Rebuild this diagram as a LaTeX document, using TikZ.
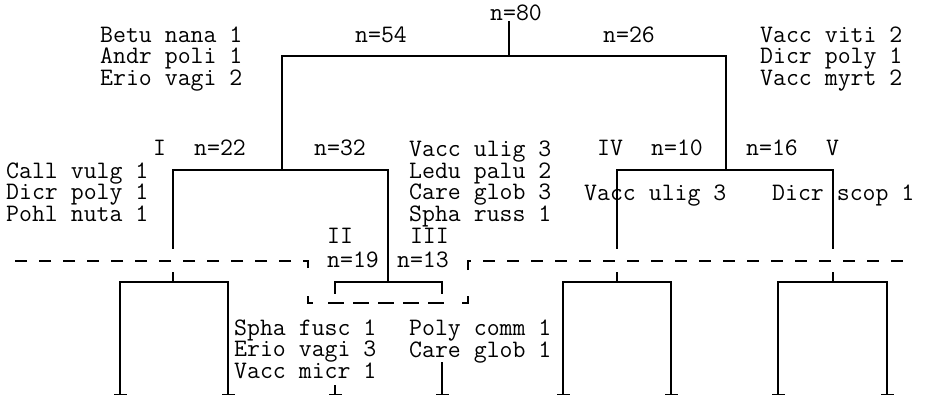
\documentclass[tikz,border=0pt]{standalone}
\usepackage{fontspec}
\usetikzlibrary{arrows.meta}

\begin{document}
\begin{tikzpicture}[
    x=1pt, y=-1pt,
    br/.style={line width=1.1pt, line cap=rect},
    leaf/.style={br, line cap=butt, -{Bar[width=13pt, line width=1.1pt]}},
    leaves/.style={br, line cap=butt,
                   {Bar[width=13pt, line width=1.1pt]}-{Bar[width=13pt, line width=1.1pt]}},
    cut/.style={line width=1.1pt, dash pattern=on 12pt off 12pt},
    lbl/.style={inner sep=0pt, anchor=base west, align=left,
                font=\fontsize{25.1}{21.5}\selectfont\ttfamily},
    lble/.style={lbl, anchor=base east, align=right},
]
\useasboundingbox (0,0) rectangle (925,400);

% tree junctions
\coordinate (top) at (509,22);
\coordinate (a)   at (282,56);
\coordinate (b)   at (726,56);
\coordinate (a1)  at (282,170);
\coordinate (b1)  at (726,170);
\coordinate (aL)  at (173,170);
\coordinate (aR)  at (388,170);
\coordinate (bL)  at (617,170);
\coordinate (bR)  at (833,170);
\coordinate (aLe) at (173,248);
\coordinate (bLe) at (617,248);
\coordinate (bRe) at (833,248);
\coordinate (aLs) at (173,273);
\coordinate (bLs) at (617,273);
\coordinate (bRs) at (833,273);
\coordinate (aLj) at (173,282);
\coordinate (aRj) at (388,282);
\coordinate (bLj) at (617,282);
\coordinate (bRj) at (833,282);

% leaves
\coordinate (l1) at (120,395);
\coordinate (l2) at (228,395);
\coordinate (l3s) at (335,293);
\coordinate (l4s) at (442,293);
\coordinate (l3b) at (335,385);
\coordinate (l3)  at (335,395);
\coordinate (l4b) at (442,362);
\coordinate (l4)  at (442,395);
\coordinate (l5) at (563,395);
\coordinate (l6) at (671,395);
\coordinate (l7) at (778,395);
\coordinate (l8) at (887,395);

% cut line
\coordinate (c0)  at (5,261);
\coordinate (c1)  at (308,261);
\coordinate (c1d) at (308,268);
\coordinate (c2u) at (308,296);
\coordinate (c2)  at (308,303);
\coordinate (c3)  at (468,303);
\coordinate (c3u) at (468,296);
\coordinate (c4d) at (468,270);
\coordinate (c4)  at (468,261);
\coordinate (c5)  at (907,261);

% labels (multi-line ones sit on their last line)
\node[lbl] (n80) at (490,20) {n=80};
\node[lbl] (n54) at (355,42) {n=54};
\node[lbl] (n26) at (603,42) {n=26};
\node[lbl] (spA) at (100,85) {Betu nana 1\\Andr poli 1\\Erio vagi 2};
\node[lbl] (spB) at (760,85) {Vacc viti 2\\Dicr poly 1\\Vacc myrt 2};

\node[lbl] (gI)  at (153,155) {I};
\node[lbl] (n22) at (194,155) {n=22};
\node[lbl] (n32) at (314,155) {n=32};
\node[lbl] (spC) at (6,221)   {Call vulg 1\\Dicr poly 1\\Pohl nuta 1};
\node[lbl] (spD) at (409,221) {Vacc ulig 3\\Ledu palu 2\\Care glob 3\\Spha russ 1};
\node[lbl]  (gII)  at (327,243) {II};
\node[lbl]  (n19)  at (327,267) {n=19};
\node[lble] (gIII) at (449,243) {III};
\node[lble] (n13)  at (449,267) {n=13};

\node[lbl] (gIV) at (597,155) {IV};
\node[lbl] (n10) at (651,155) {n=10};
\node[lbl] (n16) at (746,155) {n=16};
\node[lbl] (gV)  at (826,155) {V};
\node[lbl] (spE) at (584,200) {Vacc ulig 3};
\node[lbl] (spF) at (772,200) {Dicr scop 1};

\node[lbl] (spG) at (234,378) {Spha fusc 1\\Erio vagi 3\\Vacc micr 1};
\node[lbl] (spH) at (409,357) {Poly comm 1\\Care glob 1};

% branches
\draw[br] (top) -- (top |- a);
\draw[br] (a1) -- (a) -- (b) -- (b1);
\draw[br] (aLe) -- (aL) -- (aR) -- (aRj);
\draw[br] (bLe) -- (bL) -- (bR) -- (bRe);
\draw[br] (aLs) -- (aLj);
\draw[br] (bLs) -- (bLj);
\draw[br] (bRs) -- (bRj);

\draw[leaves] (l1) |- (aLj) -| (l2);
\draw[leaves] (l5) |- (bLj) -| (l6);
\draw[leaves] (l7) |- (bRj) -| (l8);
\draw[br] (l3s) |- (aRj) -| (l4s);
\draw[leaf] (l3b) -- (l3);
\draw[leaf] (l4b) -- (l4);

% dashed cut, with a box round II and III
\draw[cut] (c1d) -- (c1) -- (c0);
\draw[cut] (c4d) -- (c4) -- (c5);
\draw[cut, dash pattern=on 12pt off 15pt on 16pt off 9pt on 16pt off 9pt
           on 16pt off 9pt on 16pt off 9pt on 16pt off 18pt on 13pt off 60pt]
      (c2u) -- (c2) -- (c3) -- (c3u);
\end{tikzpicture}
\end{document}
